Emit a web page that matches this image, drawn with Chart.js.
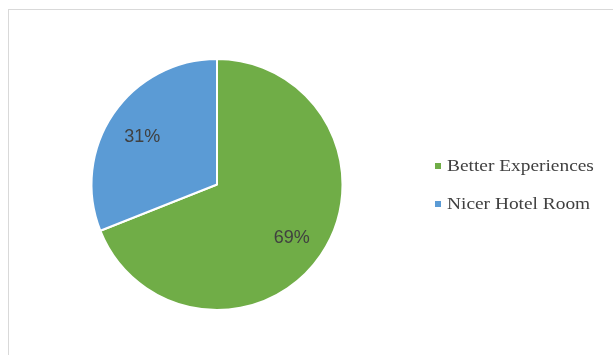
<!DOCTYPE html>
<html>
<head>
<meta charset="utf-8">
<script src="https://cdn.jsdelivr.net/npm/chart.js@4.4.1/dist/chart.umd.min.js"></script>
<style>
  html, body { margin: 0; padding: 0; background: #fff; }
  #wrap { position: relative; width: 613px; height: 355px; overflow: hidden; }
  #frame { position: absolute; left: 8px; top: 9px; width: 700px; height: 400px; border: 1px solid #d9d9d9; box-sizing: border-box; }
  #myPie { position: absolute; left: 0; top: 0; }
</style>
</head>
<body>
<div id="wrap">
  <div id="frame"></div>
  <canvas id="myPie" width="613" height="355"></canvas>
</div>
<script>
var categories = ['Better Experiences', 'Nicer Hotel Room'];
var shares = [69, 31];
var sliceColors = ['#70AD47', '#5B9BD5'];

// percent labels inside the slices + legend on the right
var pieLabels = {
	id: 'pieLabels',
	afterDatasetsDraw: function(chart){
		var ctx = chart.ctx;
		var meta = chart.getDatasetMeta(0);
		var total = shares.reduce(function(a, b){ return a + b; }, 0);
		ctx.save();
		ctx.font = '18px "Liberation Sans", Arial, sans-serif';
		ctx.fillStyle = '#404040';
		ctx.textAlign = 'center';
		ctx.textBaseline = 'middle';
		meta.data.forEach(function(arc, i){
			var p = arc.getProps(['x', 'y', 'startAngle', 'endAngle', 'outerRadius'], true);
			var mid = (p.startAngle + p.endAngle) / 2;
			var r = p.outerRadius * 0.72;
			ctx.fillText(Math.round(shares[i] / total * 100) + '%', p.x + Math.cos(mid) * r, p.y + Math.sin(mid) * r + 3);
		});

		ctx.font = '17px "Liberation Serif", "Times New Roman", serif';
		ctx.textAlign = 'left';
		for(var i in categories){
			var y = 166 + i * 38;
			ctx.fillStyle = sliceColors[i];
			ctx.fillRect(435, y - 3, 6, 6);
			ctx.fillStyle = '#404040';
			ctx.save();
			ctx.translate(447, y + 1);
			ctx.scale(1.14, 1);
			ctx.fillText(categories[i], 0, 0);
			ctx.restore();
		}
		ctx.restore();
	}
};

var ctx = document.getElementById('myPie');

var pieChart = new Chart(ctx, {
	type: 'pie',
	data: {
		labels: categories,
		datasets: [{
			data: shares,
			backgroundColor: sliceColors,
			borderColor: '#ffffff',
			borderWidth: 2
		}]
	},
	options: {
		responsive: false,
		animation: false,
		layout: { padding: { left: 90, right: 269, top: 58, bottom: 44 } },
		plugins: {
			legend: { display: false },
			tooltip: { enabled: false }
		}
	},
	plugins: [pieLabels]
});
</script>
</body>
</html>
